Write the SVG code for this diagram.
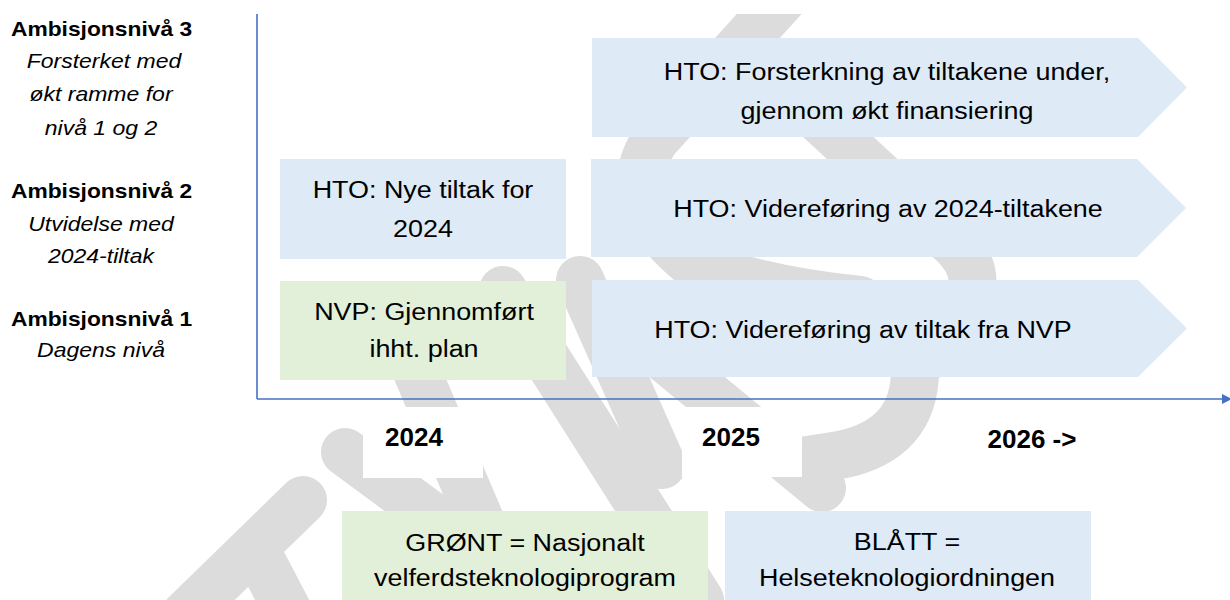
<svg xmlns="http://www.w3.org/2000/svg" width="1230" height="600" viewBox="0 0 1230 600">
<defs>
<style>
text { font-family: "Liberation Sans", Arial, sans-serif; fill: #000; text-anchor: middle; }
.lbl { font-size: 20px; font-weight: bold; }
.sub { font-size: 20px; font-style: italic; }
.bt { font-size: 23px; }
.yr { font-size: 26px; font-weight: bold; }
.blue { fill: #deeaf6; }
.green { fill: #e2efd9; }
.wm { fill: none; stroke: #dcdcdc; stroke-width: 48; stroke-linecap: round; stroke-linejoin: round; }
.axis { stroke: #4472c4; stroke-width: 1.6; fill: none; }
</style>
<marker id="ah" markerWidth="10" markerHeight="10" refX="2" refY="5" orient="auto" markerUnits="userSpaceOnUse">
<path d="M0,0 L10,5 L0,10 Z" fill="#4472c4"/>
</marker>
<clipPath id="wmclip"><rect x="0" y="14" width="1230" height="586"/></clipPath>
</defs>
<rect width="1230" height="600" fill="#ffffff"/>
<g id="watermark" clip-path="url(#wmclip)">
<path class="wm" d="M800,-20 L655,140 Q615,200 690,262 Q760,290 860,300"/>
<path class="wm" d="M820,120 L955,245 Q990,280 955,320 L915,370 Q915,440 840,455 L795,462"/>
<path class="wm" d="M630,330 L822,488"/>
<path class="wm" d="M580,280 L662,465"/>
<path class="wm" d="M503,290 L700,600"/>
<path class="wm" d="M395,320 L480,520"/>
<path class="wm" d="M345,452 L440,522"/>
<path class="wm" d="M303,500 L185,615"/>
<path class="wm" d="M255,548 L290,615"/>
</g>
<g id="year-backgrounds" fill="#ffffff">
<rect x="363" y="407" width="120" height="71"/>
<rect x="682" y="407" width="120" height="70"/>
</g>
<g id="connectors">
<line class="axis" x1="257" y1="14" x2="257" y2="399"/>
<line class="axis" x1="257" y1="399" x2="1224" y2="399" marker-end="url(#ah)"/>
</g>
<g id="level-3">
<text class="lbl" transform="translate(101.5,36) scale(1.14,1)">Ambisjonsnivå 3</text>
<text class="sub" transform="translate(104,68) scale(1.15,1)">Forsterket med</text>
<text class="sub" transform="translate(101,101) scale(1.15,1)">økt ramme for</text>
<text class="sub" transform="translate(101,135) scale(1.15,1)">nivå 1 og 2</text>
</g>
<g id="level-2">
<text class="lbl" transform="translate(101.5,198) scale(1.14,1)">Ambisjonsnivå 2</text>
<text class="sub" transform="translate(101,231) scale(1.15,1)">Utvidelse med</text>
<text class="sub" transform="translate(101,263) scale(1.15,1)">2024-tiltak</text>
</g>
<g id="level-1">
<text class="lbl" transform="translate(101.5,326) scale(1.14,1)">Ambisjonsnivå 1</text>
<text class="sub" transform="translate(101,357) scale(1.15,1)">Dagens nivå</text>
</g>
<g id="hto-forsterkning">
<polygon class="blue" points="592,38 1138,38 1187,87.5 1138,137 592,137"/>
<text class="bt" transform="translate(887,80) scale(1.17,1)">HTO: Forsterkning av tiltakene under,</text>
<text class="bt" transform="translate(887,119) scale(1.17,1)">gjennom økt finansiering</text>
</g>
<g id="hto-nye-tiltak">
<rect class="blue" x="280" y="159" width="286" height="100"/>
<text class="bt" transform="translate(423,198) scale(1.17,1)">HTO: Nye tiltak for</text>
<text class="bt" transform="translate(423,237) scale(1.17,1)">2024</text>
</g>
<g id="hto-videreforing-2024">
<polygon class="blue" points="591,159 1137,159 1186,208 1137,257 591,257"/>
<text class="bt" transform="translate(888,217) scale(1.17,1)">HTO: Videreføring av 2024-tiltakene</text>
</g>
<g id="nvp-gjennomfort">
<rect class="green" x="280" y="281" width="286" height="99"/>
<text class="bt" transform="translate(424,320) scale(1.17,1)">NVP: Gjennomført</text>
<text class="bt" transform="translate(424,357) scale(1.17,1)">ihht. plan</text>
</g>
<g id="hto-videreforing-nvp">
<polygon class="blue" points="592,280 1138,280 1187,328.5 1138,377 592,377"/>
<text class="bt" transform="translate(863,338) scale(1.17,1)">HTO: Videreføring av tiltak fra NVP</text>
</g>
<g id="years">
<text class="yr" x="414" y="446">2024</text>
<text class="yr" x="731" y="446">2025</text>
<text class="yr" x="1032" y="448">2026 -&gt;</text>
</g>
<g id="legend-green">
<rect class="green" x="342" y="511" width="366" height="95"/>
<text class="bt" transform="translate(525,551) scale(1.17,1)">GRØNT = Nasjonalt</text>
<text class="bt" transform="translate(525,586) scale(1.17,1)">velferdsteknologiprogram</text>
</g>
<g id="legend-blue">
<rect class="blue" x="725" y="511" width="366" height="95"/>
<text class="bt" transform="translate(907,550) scale(1.17,1)">BLÅTT =</text>
<text class="bt" transform="translate(907,586) scale(1.17,1)">Helseteknologiordningen</text>
</g>
</svg>
